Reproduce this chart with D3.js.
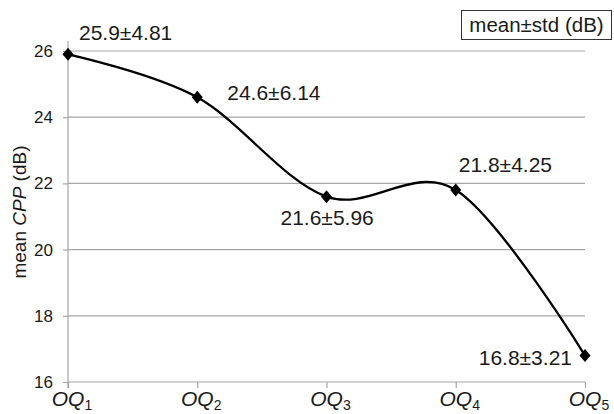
<!DOCTYPE html>
<html>
<head>
<meta charset="utf-8">
<script src="https://cdn.jsdelivr.net/npm/d3@7"></script>
<style>
  html, body { margin: 0; padding: 0; background: #fff; }
  svg { display: block; font-family: "Liberation Sans", Arial, sans-serif; }
</style>
</head>
<body>
<svg id="chart" width="614" height="414"></svg>
<script>
// Mean CPP per OQ group, with standard deviations
const categories = ["1", "2", "3", "4", "5"];
const meanCPP = [25.9, 24.6, 21.6, 21.8, 16.8];
const stdCPP = [4.81, 6.14, 5.96, 4.25, 3.21];
const yTicks = [16, 18, 20, 22, 24, 26];

// Label offsets (dx, dy, anchor) relative to each point
const labelPlacement = [
  { dx: 11, dy: -14, anchor: "start" },
  { dx: 30, dy: 3, anchor: "start" },
  { dx: -46, dy: 28, anchor: "start" },
  { dx: 3, dy: -18, anchor: "start" },
  { dx: -13, dy: 9, anchor: "end" }
];

const svg = d3.select("#chart");
const textColor = "#1a1a1a";
const gridColor = "#a6a6a6";

const x = d3.scalePoint().domain(categories).range([68, 585]);
const y = d3.scaleLinear().domain([16, 26]).range([382, 51]);

// Horizontal gridlines (baseline drawn by the x axis)
svg.append("g")
  .selectAll("line")
  .data(yTicks.filter(t => t !== 16))
  .join("line")
  .attr("x1", 68).attr("x2", 585)
  .attr("y1", d => y(d)).attr("y2", d => y(d))
  .attr("stroke", gridColor).attr("stroke-width", 1.2);

// Y axis
const yAxis = svg.append("g")
  .attr("transform", "translate(68,0)")
  .call(d3.axisLeft(y).tickValues(yTicks).tickSize(5).tickSizeOuter(0).tickPadding(10));
yAxis.select(".domain").attr("stroke", gridColor).attr("stroke-width", 1.2)
  .attr("d", `M0,${y(26) - 10}V${y(16) + 6}`);
yAxis.selectAll(".tick line").attr("stroke", gridColor).attr("stroke-width", 1.2);
yAxis.selectAll(".tick text")
  .attr("font-size", 17).attr("fill", textColor)
  .attr("font-family", "'Liberation Sans', Arial, sans-serif");

// X axis
const xAxis = svg.append("g")
  .attr("transform", `translate(0,${y(16)})`)
  .call(d3.axisBottom(x).tickSize(6).tickSizeOuter(0).tickFormat(""));
xAxis.select(".domain").attr("stroke", gridColor).attr("stroke-width", 1.2)
  .attr("d", `M68,0H585`);
xAxis.selectAll(".tick line").attr("stroke", gridColor).attr("stroke-width", 1.2);

// Category labels OQ with subscripts
const xLabels = svg.append("g")
  .selectAll("text")
  .data(categories)
  .join("text")
  .attr("x", d => x(d) + 4)
  .attr("y", 406)
  .attr("text-anchor", "middle")
  .attr("font-size", 21)
  .attr("font-style", "italic")
  .attr("fill", textColor);
xLabels.append("tspan").text("OQ");
xLabels.append("tspan")
  .attr("font-size", 14)
  .attr("font-style", "normal")
  .attr("dy", 4)
  .text(d => d);

// Y axis title
const yTitle = svg.append("text")
  .attr("transform", "translate(26,212) rotate(-90)")
  .attr("text-anchor", "middle")
  .attr("font-size", 19)
  .attr("fill", textColor);
yTitle.append("tspan").text("mean ");
yTitle.append("tspan").attr("font-style", "italic").text("CPP");
yTitle.append("tspan").text(" (dB)");

// Smoothed line through the means
const line = d3.line()
  .x((d, i) => x(categories[i]))
  .y(d => y(d))
  .curve(d3.curveCardinal.tension(0));

svg.append("path")
  .datum(meanCPP)
  .attr("d", line)
  .attr("fill", "none")
  .attr("stroke", "#000")
  .attr("stroke-width", 2.3);

// Diamond markers
svg.append("g")
  .selectAll("path")
  .data(meanCPP)
  .join("path")
  .attr("transform", (d, i) => `translate(${x(categories[i])},${y(d)})`)
  .attr("d", "M0,-6.5L5.5,0L0,6.5L-5.5,0Z")
  .attr("fill", "#000");

// Value labels
svg.append("g")
  .selectAll("text")
  .data(meanCPP)
  .join("text")
  .attr("x", (d, i) => x(categories[i]) + labelPlacement[i].dx)
  .attr("y", (d, i) => y(d) + labelPlacement[i].dy)
  .attr("text-anchor", (d, i) => labelPlacement[i].anchor)
  .attr("font-size", 21)
  .attr("fill", textColor)
  .text((d, i) => `${d.toFixed(1)}±${stdCPP[i].toFixed(2)}`);

// Legend box
const legend = svg.append("g").attr("transform", "translate(461,10)");
legend.append("rect")
  .attr("x", 0.5).attr("y", 0.5)
  .attr("width", 150).attr("height", 29)
  .attr("fill", "#fff")
  .attr("stroke", "#333").attr("stroke-width", 1);
legend.append("text")
  .attr("x", 75.5).attr("y", 22)
  .attr("text-anchor", "middle")
  .attr("font-size", 20.5)
  .attr("fill", textColor)
  .text("mean±std (dB)");
</script>
</body>
</html>
